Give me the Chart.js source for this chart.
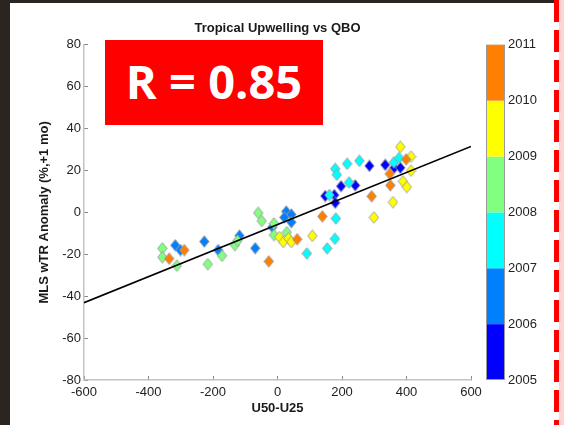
<!DOCTYPE html>
<html>
<head>
<meta charset="utf-8">
<script src="https://cdn.jsdelivr.net/npm/chart.js@4/dist/chart.umd.min.js"></script>
<style>
  body { margin: 0; width: 564px; height: 425px; overflow: hidden; background: #2a2520; position: relative; }
  #panel { position: absolute; left: 10px; top: 3px; width: 549px; height: 422px; background: #fff; }
  #pink { position: absolute; left: 559px; top: 0; width: 5px; height: 425px; background: #ffd4d4; }
  #dash { position: absolute; left: 554px; top: 0; width: 5px; height: 425px;
          background: repeating-linear-gradient(to bottom, #ff0000 0 22px, transparent 22px 30px); }
  #c { position: absolute; left: 0; top: 0; }
  #rbox { position: absolute; left: 105px; top: 40px; width: 218px; height: 85px; background: #ff0000;
          color: #fff; font: bold 47px "Open Sans", sans-serif; display: flex; align-items: center;
          justify-content: center; line-height: 1; padding-bottom: 2px; box-sizing: border-box; }
</style>
</head>
<body>
<div id="panel"></div>
<div id="pink"></div>
<div id="dash"></div>
<canvas id="c" width="564" height="425"></canvas>
<div id="rbox">R = 0.85</div>
<script>
// colorbar
const cbYears = [2005, 2006, 2007, 2008, 2009, 2010, 2011];
const cbColors = ["#0000ff", "#0080ff", "#00ffff", "#80ff80", "#ffff00", "#ff8000"];

// points per year (U50-U25, wTR anomaly)
const x2005 = [148, 176, 179, 197, 241, 285, 334, 362, 381];
const y2005 = [7.8, 8.3, 4.6, 12.5, 12.9, 22.2, 22.7, 21.3, 21.3];

const x2006 = [-317, -301, -227, -184, -118, -69, -16, 27, 43, 21, 43];
const y2006 = [-15.7, -18.0, -13.9, -18.0, -11.1, -17.1, -7.0, 0.4, -1.0, -2.4, -4.7];

const x2007 = [91, 154, 178, 181, 161, 179, 184, 216, 254, 222, 361, 377];
const y2007 = [-19.6, -17.2, -12.6, -2.9, 8.3, 20.8, 18.0, 23.2, 24.6, 14.3, 23.9, 26.0];

const x2008 = [-357, -357, -312, -216, -172, -132, -124, -60, -49, -11, -11, 29];
const y2008 = [-17.2, -21.4, -25.4, -24.7, -20.7, -15.6, -13.5, -0.2, -4.1, -5.3, -10.8, -9.5];

const x2009 = [6, 18, 34, 43, 108, 299, 358, 381, 414, 414, 389, 401];
const y2009 = [-11.8, -14.1, -12.4, -14.1, -11.2, -2.4, 4.9, 31.3, 26.6, 19.9, 14.8, 12.1];

const x2010 = [-336, -289, -27, 61, 139, 292, 348, 350, 399];
const y2010 = [-22.1, -18.0, -23.4, -12.8, -1.9, 7.7, 18.4, 12.9, 25.3];

// regression line
const fitX = [-600, 600];
const fitY = [-43.1, 31.5];

const xTicks = [-600, -400, -200, 0, 200, 400, 600];
const yTicks = [-80, -60, -40, -20, 0, 20, 40, 60, 80];

const yearX = [x2005, x2006, x2007, x2008, x2009, x2010];
const yearY = [y2005, y2006, y2007, y2008, y2009, y2010];

function pts(xs, ys) {
  return xs.map((v, i) => ({ x: v, y: ys[i] }));
}

// matlab style diamond, a bit taller than wide
function diamond(color) {
  const c = document.createElement("canvas");
  c.width = 11;
  c.height = 13;
  const g = c.getContext("2d");
  g.beginPath();
  g.moveTo(5.5, 0.7);
  g.lineTo(10.2, 6.5);
  g.lineTo(5.5, 12.3);
  g.lineTo(0.8, 6.5);
  g.closePath();
  g.fillStyle = color;
  g.fill();
  g.strokeStyle = "#9a9a9a";
  g.lineWidth = 0.9;
  g.stroke();
  return c;
}

const FONT = '"Liberation Sans", Arial, sans-serif';

const datasets = [
  {
    type: "line",
    label: "fit",
    data: pts(fitX, fitY),
    borderColor: "#000",
    borderWidth: 1.6,
    pointRadius: 0,
    order: 0,
  },
];
yearX.forEach((xs, i) => {
  datasets.push({
    label: String(cbYears[i]),
    data: pts(xs, yearY[i]),
    pointStyle: diamond(cbColors[i]),
    backgroundColor: cbColors[i],
    order: 6 - i,
  });
});

const colorbarPlugin = {
  id: "colorbar",
  afterDraw(chart) {
    const s = chart.scales.ycb;
    const ctx = chart.ctx;
    const x0 = s.left + 15, w = 19;
    ctx.save();
    for (let i = 0; i < cbColors.length; i++) {
      const yTop = s.getPixelForValue(cbYears[i + 1]);
      const yBot = s.getPixelForValue(cbYears[i]);
      ctx.fillStyle = cbColors[i];
      ctx.fillRect(x0, yTop, w, yBot - yTop);
    }
    const t = s.getPixelForValue(cbYears[cbYears.length - 1]);
    const b = s.getPixelForValue(cbYears[0]);
    ctx.strokeStyle = "#9a9a9a";
    ctx.lineWidth = 1;
    ctx.strokeRect(x0 + 0.5, t + 0.5, w - 1, b - t - 1);
    ctx.restore();
  },
};

new Chart(document.getElementById("c"), {
  type: "scatter",
  data: { datasets: datasets },
  options: {
    responsive: false,
    animation: false,
    devicePixelRatio: 1,
    layout: { padding: { right: 9 } },
    plugins: {
      legend: { display: false },
      tooltip: { enabled: false },
      title: {
        display: true,
        text: "Tropical Upwelling vs QBO",
        color: "#1a1a1a",
        font: { family: FONT, size: 13, weight: "bold" },
        padding: { top: 12, bottom: 8.4 },
      },
    },
    scales: {
      x: {
        type: "linear",
        min: -600,
        max: 600,
        afterBuildTicks: (s) => { s.ticks = xTicks.map((v) => ({ value: v })); },
        ticks: { color: "#222", font: { family: FONT, size: 13 }, padding: 9, maxRotation: 0, autoSkip: false },
        grid: { drawOnChartArea: false, color: "#888", tickLength: -4 },
        border: { color: "#c4c4c4", width: 1.5 },
        title: {
          display: true,
          text: "U50-U25",
          color: "#1a1a1a",
          font: { family: FONT, size: 13, weight: "bold" },
          padding: { top: 0, bottom: 9 },
        },
        afterFit: (s) => { s.height = 45; },
      },
      y: {
        type: "linear",
        min: -80,
        max: 80,
        afterBuildTicks: (s) => { s.ticks = yTicks.map((v) => ({ value: v })); },
        ticks: { color: "#222", font: { family: FONT, size: 13 }, padding: 7, autoSkip: false },
        grid: { drawOnChartArea: false, color: "#888", tickLength: -4 },
        border: { color: "#c4c4c4", width: 1.5 },
        title: {
          display: true,
          text: "MLS wTR Anomaly (%,+1 mo)",
          color: "#1a1a1a",
          font: { family: FONT, size: 13, weight: "bold" },
          padding: { top: 37, bottom: 0 },
        },
        afterFit: (s) => { s.width = 84; },
      },
      ycb: {
        type: "linear",
        position: "right",
        min: 2005,
        max: 2011,
        afterBuildTicks: (s) => { s.ticks = cbYears.map((v) => ({ value: v })); },
        ticks: { color: "#222", font: { family: FONT, size: 13 }, padding: 37, callback: (v) => String(v) },
        grid: { display: false, drawTicks: false },
        border: { display: false },
        afterFit: (s) => { s.width = 84; },
      },
    },
  },
  plugins: [colorbarPlugin],
});
</script>
</body>
</html>
